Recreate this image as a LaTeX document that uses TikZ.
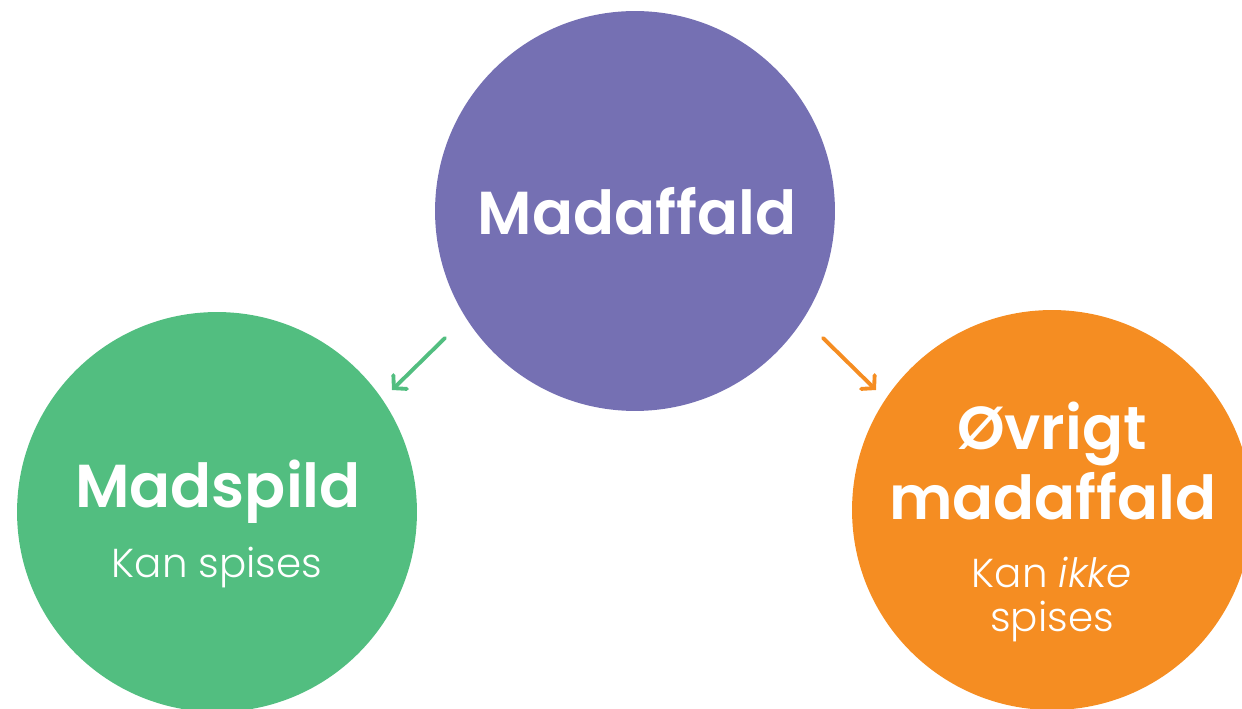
\documentclass[tikz,border=0pt]{standalone}
\usepackage{fontspec}
\setmainfont{Poppins}[BoldFont={Poppins SemiBold}]
\newfontfamily\lightfont{Poppins Light}[ItalicFont={Poppins Light Italic}]
\usepackage{tikz}
\usetikzlibrary{arrows.meta,shapes}
\definecolor{waste}{HTML}{7570B3}
\definecolor{spild}{HTML}{52BE80}
\definecolor{other}{HTML}{F58D22}
\tikzset{
	bubble/.style={circle,minimum size=8cm,inner sep=0pt},
	title/.style={text=white,font=\fontsize{34.5}{40}\selectfont\bfseries,anchor=base,inner sep=0pt},
	sub/.style={text=white,font=\fontsize{23}{24}\selectfont\lightfont,anchor=base,inner sep=0pt},
	pointer/.style={line width=2.2pt,line cap=round,-{Straight Barb[length=5pt,width=11pt,line cap=round]}}
}
\begin{document}
\begin{tikzpicture}[x=0.02cm,y=-0.02cm]
		\useasboundingbox (0, 0) rectangle (1242, 709);
		\clip (0, 0) rectangle (1242, 709);

		% the three circles
		\node[bubble,fill=waste] (madaffald) at (635, 211) {};
		\node[bubble,fill=spild] (madspild) at (217, 512) {};
		\node[bubble,fill=other] (ovrigt) at (1052, 510) {};

		% texts
		\node[title] (madaffaldtxt) at (637, 235) {Madaffald};
		\node[title] (madspildtxt) at (218, 508) {Madspild};
		\node[sub] (madspildsub) at (217, 578) {Kan spises};
		\node[title] (ovrigttxt) at (1052, 450) {Øvrigt};
		\node[title] (ovrigttxt2) at (1053, 520) {madaffald};
		\node[sub] (ovrigtsub) at (1052, 588) {Kan \textit{ikke}};
		\node[sub] (ovrigtsub2) at (1052, 632) {spises};

		% arrows
		\coordinate (gs) at (445, 338);
		\coordinate (ge) at (392, 390);
		\coordinate (os) at (823, 338);
		\coordinate (oe) at (876, 390);
		\draw[pointer,draw=spild] (gs) -- (ge);
		\draw[pointer,draw=other] (os) -- (oe);
\end{tikzpicture}
\end{document}
